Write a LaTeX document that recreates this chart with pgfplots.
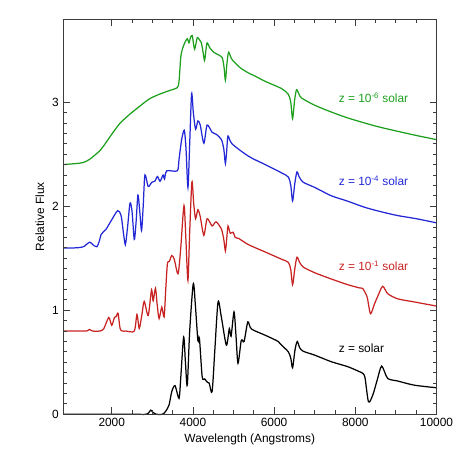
\documentclass[border=0pt]{standalone}
\usepackage{pgfplots}
\pgfplotsset{compat=1.18}
\usepackage{fontspec}
\setmainfont{Liberation Sans}
\definecolor{cgreen}{RGB}{30,160,30}
\definecolor{cblue}{RGB}{35,40,215}
\definecolor{cred}{RGB}{200,35,35}
\definecolor{axgray}{RGB}{60,60,60}
\pgfplotsset{base/.style={at={(0,0)}, anchor=south west, scale only axis,
  width=375bp, height=397bp, xmin=800, xmax=10000, ymin=0, ymax=3.8}}
\begin{document}
\fontsize{12}{14}\selectfont
\begin{tikzpicture}
\begin{axis}[base, hide axis, clip=false]
% green z = 1e-6 solar
\addplot[cgreen, line width=1.25pt, smooth, tension=0.45] coordinates {
(800,2.40)(1128,2.41)(1300,2.42)(1454,2.45)(1580,2.49)(1698,2.53)(1820,2.59)(1943,2.66)
(2188,2.79)(2432,2.88)(2677,2.957)(2922,3.03)(3167,3.075)(3412,3.11)(3615,3.14)
(3657,3.20)(3700,3.43)(3740,3.51)(3804,3.575)(3861,3.61)(3902,3.57)(3940,3.62)(3983,3.64)
(4041,3.51)(4106,3.62)(4160,3.60)(4204,3.575)(4250,3.48)(4286,3.40)(4320,3.50)(4350,3.57)
(4420,3.52)(4514,3.48)(4600,3.46)(4718,3.43)(4765,3.34)(4800,3.21)(4840,3.38)(4881,3.48)
(4962,3.41)(5167,3.33)(5370,3.28)(5534,3.25)(5779,3.20)(6185,3.13)(6350,3.075)(6410,3.00)
(6455,2.84)(6505,3.02)(6553,3.12)(6610,3.08)(6675,3.04)(7003,2.97)(7410,2.905)(7800,2.85)
(8227,2.80)(8600,2.76)(9042,2.72)(9500,2.68)(10000,2.64)
};
% blue z = 1e-4 solar
\addplot[cblue, line width=1.25pt, smooth, tension=0.45] coordinates {
(800,1.597)(1128,1.60)(1300,1.61)(1454,1.654)(1535,1.63)(1633,1.61)(1698,1.67)(1740,1.73)
(1862,1.78)(1985,1.86)(2146,1.957)(2230,1.91)(2286,1.75)(2335,1.63)(2390,1.80)(2450,2.03)
(2500,1.95)(2555,1.68)(2600,1.85)(2645,2.107)(2690,1.95)(2734,1.765)(2775,2.00)(2817,2.30)
(2898,2.19)(2988,2.23)(3060,2.24)(3126,2.285)(3190,2.24)(3265,2.30)(3300,2.26)(3355,2.34)
(3615,2.34)(3657,2.45)(3722,2.64)(3787,2.73)(3830,2.55)(3877,2.18)(3920,2.60)(3967,3.08)
(4010,2.90)(4065,2.74)(4122,2.82)(4180,2.78)(4269,2.605)(4350,2.78)(4472,2.71)(4580,2.69)
(4702,2.64)(4760,2.55)(4800,2.41)(4835,2.55)(4864,2.675)(4962,2.60)(5370,2.48)(5779,2.40)
(6185,2.32)(6350,2.28)(6410,2.20)(6455,2.05)(6510,2.22)(6563,2.33)(6620,2.28)(6717,2.23)
(7003,2.18)(7410,2.10)(7800,2.05)(8227,1.99)(8600,1.95)(9042,1.91)(9500,1.88)(10000,1.84)
};
% red z = 1e-1 solar
\addplot[cred, line width=1.25pt, smooth, tension=0.45] coordinates {
(800,0.80)(1210,0.80)(1380,0.80)(1454,0.815)(1530,0.80)(1698,0.80)(1800,0.82)(1926,0.93)
(2000,0.855)(2066,0.93)(2110,0.94)(2156,0.97)(2205,0.825)(2260,0.80)(2350,0.80)(2555,0.80)
(2621,0.96)(2677,0.825)(2740,0.95)(2800,1.085)(2898,0.95)(2980,1.197)(3020,1.09)(3077,1.21)
(3120,1.05)(3167,0.92)(3233,1.03)(3290,0.935)(3330,1.20)(3371,1.446)(3420,1.47)(3478,1.526)
(3540,1.49)(3633,1.35)(3700,1.60)(3780,2.005)(3830,1.65)(3877,1.286)(3920,1.75)(3975,2.235)
(4020,2.02)(4065,1.88)(4122,1.966)(4180,1.90)(4269,1.72)(4350,1.88)(4472,1.81)(4570,1.85)
(4702,1.78)(4760,1.68)(4800,1.57)(4835,1.70)(4864,1.81)(4920,1.74)(4990,1.75)(5040,1.70)
(5126,1.69)(5370,1.63)(5779,1.56)(6185,1.49)(6350,1.46)(6410,1.39)(6455,1.245)(6510,1.40)
(6563,1.51)(6630,1.46)(6717,1.415)(7003,1.36)(7410,1.30)(7818,1.245)(8100,1.215)(8185,1.207)
(8291,1.127)(8374,0.967)(8472,1.06)(8560,1.14)(8675,1.23)(8797,1.16)(9042,1.11)(9450,1.08)
(10000,1.04)
};
% black z = solar
\addplot[black, line width=1.25pt, smooth, tension=0.45] coordinates {
(800,0)(1500,0)(2513,0)(2850,0)(2920,0.02)(2963,0.04)(3010,0.02)(3100,0)(3249,0)(3331,0.03)
(3412,0.09)(3478,0.217)(3559,0.275)(3657,0.153)(3700,0.35)(3771,0.744)(3815,0.50)(3861,0.28)
(3920,0.80)(4008,1.255)(4060,1.05)(4122,0.71)(4160,0.73)(4228,0.36)(4290,0.34)(4350,0.31)
(4400,0.30)(4472,0.217)(4540,0.62)(4619,1.08)(4702,0.93)(4824,0.664)(4897,0.824)(4940,0.75)
(5012,0.984)(5060,0.76)(5110,0.49)(5191,0.71)(5260,0.70)(5353,0.888)(5440,0.82)(5779,0.76)
(6100,0.70)(6185,0.664)(6350,0.60)(6410,0.54)(6455,0.447)(6515,0.62)(6570,0.70)(6630,0.64)
(6717,0.606)(7003,0.568)(7410,0.505)(7818,0.457)(8100,0.41)(8185,0.393)(8240,0.35)(8325,0.12)
(8431,0.185)(8540,0.33)(8650,0.463)(8797,0.345)(9042,0.32)(9450,0.28)(10000,0.255)
};
\node[anchor=west, text=cgreen] at (axis cs:7490,3.04) {z = 10\textsuperscript{-6} solar};
\node[anchor=west, text=cblue] at (axis cs:7490,2.245) {z = 10\textsuperscript{-4} solar};
\node[anchor=west, text=cred] at (axis cs:7490,1.43) {z = 10\textsuperscript{-1} solar};
\node[anchor=west, text=black] at (axis cs:7490,0.632) {z = solar};
\end{axis}
\begin{axis}[base,
  xtick={2000,4000,6000,8000,10000}, ytick={0,1,2,3},
  scaled x ticks=false, scaled y ticks=false,
  xticklabels={2000,4000,6000,8000,10000},
  yticklabels={0,1,2,3},
  minor x tick num=3, minor y tick num=9,
  tick align=inside, major tick length=7bp, minor tick length=4bp,
  axis line style={draw=axgray, line width=0.8pt},
  every tick/.style={draw=axgray, line width=0.8pt},
  ticklabel style={font=\fontsize{12}{14}\selectfont},
  xlabel={Wavelength (Angstroms)}, ylabel={Relative Flux},
  label style={font=\fontsize{12}{14}\selectfont},
  xlabel style={at={(axis description cs:0.5,-0.063)}, anchor=center},
  ylabel style={at={(axis description cs:-0.062,0.5)}, anchor=center},
]
\addplot[draw=none] coordinates {(800,0)(10000,3.8)};
\draw[axgray, line width=0.8pt] (rel axis cs:0,0) rectangle (rel axis cs:1,1);
\end{axis}
\path (-63.3bp,-41bp) rectangle (393.7bp,416bp);
\end{tikzpicture}
\end{document}
